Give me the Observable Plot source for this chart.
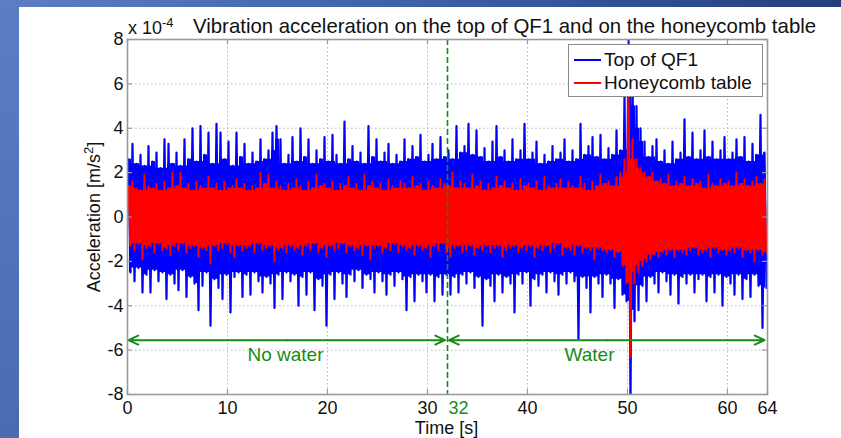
<!DOCTYPE html>
<html>
<head>
<meta charset="utf-8">
<script src="https://cdn.jsdelivr.net/npm/d3@7"></script>
<script src="https://cdn.jsdelivr.net/npm/@observablehq/plot@0.6"></script>
<style>
html,body{margin:0;padding:0;width:841px;height:438px;overflow:hidden;}
body{position:relative;background:linear-gradient(90deg,#5b7ec5 0%,#4064aa 45%,#233f80 100%);font-family:"Liberation Sans",Arial,Helvetica,sans-serif;color:#111;}
#leftband{position:absolute;left:0;top:0;width:19px;height:438px;background:linear-gradient(180deg,#5a7dc4 0%,#4a6bb0 100%);}
#panel{position:absolute;left:19px;top:7px;width:822px;height:431px;background:#fff;}
#chart{position:absolute;left:0;top:0;}
#chart svg{background:transparent;}
.lbl{position:absolute;white-space:nowrap;line-height:1;}
#title{left:193px;top:16px;font-size:20.4px;}
#expo{left:128px;top:19px;font-size:18px;}
#expo sup{font-size:13px;position:relative;top:-3px;vertical-align:top;}
#xlabel{left:0;width:893px;text-align:center;top:419px;font-size:18px;}
#ylabel{left:92px;top:217px;font-size:18px;transform:translate(-50%,-50%) rotate(-90deg);}
#legend{position:absolute;left:568px;top:44px;width:193px;height:51px;border:1px solid #8a8a8a;background:#fff;}
.row{position:absolute;left:4px;height:22px;font-size:19px;line-height:22px;white-space:nowrap;}
.sw{position:absolute;left:1px;top:10px;width:27px;height:2px;}
.row .txt{position:absolute;left:31px;top:0;}
</style>
</head>
<body>
<div id="leftband"></div>
<div id="panel"></div>
<div id="chart"></div>
<div class="lbl" id="title">Vibration acceleration on the top of QF1 and on the honeycomb table</div>
<div class="lbl" id="expo">x 10<sup>-4</sup></div>
<div class="lbl" id="xlabel">Time [s]</div>
<div class="lbl" id="ylabel">Acceleration [m/s<sup style="font-size:13px">2</sup>]</div>
<div id="legend">
  <div class="row" style="top:4px;width:180px"><div class="sw" style="background:#0000ff"></div><span class="txt">Top of QF1</span></div>
  <div class="row" style="top:27px;width:180px"><div class="sw" style="background:#ff0000"></div><span class="txt">Honeycomb table</span></div>
</div>
<script>
// Values in units of 1e-4 m/s^2, one pair (upper peak, lower peak) per 0.4 s window
const dt = 0.4;
const qf1High = [2.6,3.3,2.4,2.8,2.3,3.2,2.5,2.9,2.2,3.5, 3.3,2.4,2.9,2.3,3.5,2.6,4.0,2.5,4.1,2.8,
  3.8,2.4,4.2,3.8,2.6,3.4,2.3,3.8,2.7,3.3, 2.4,2.9,2.5,3.5,2.6,3.0,3.8,4.1,3.5,2.4,
  2.8,3.6,2.5,4.0,2.7,3.5,2.4,3.0,2.6,3.6, 2.5,3.7,2.8,2.4,4.3,2.6,3.2,2.5,2.9,2.4,
  4.1,2.7,3.5,2.5,2.9,3.3,2.4,2.8,2.5,3.5, 2.6,3.2,2.7,3.7,2.5,2.8,3.3,2.6,3.6,2.7,
  3.0,2.6,4.1,2.9,3.2,4.2,2.8,3.9,2.7,3.1, 2.5,3.4,4.1,2.7,3.0,2.5,3.5,2.6,3.0,4.2,
  2.6,2.9,3.4,2.4,2.8,2.5,3.2,2.6,2.9,3.5, 2.5,3.0,2.6,4.2,2.8,3.2,3.6,2.7,3.7,2.6,
  3.1,2.8,3.9,3.0,5.5,8.5,6.5,5.0,4.0,3.4, 2.7,3.2,3.5,2.5,3.0,2.4,3.4,2.6,2.9,4.4,
  2.7,3.8,2.6,3.0,3.9,2.7,3.4,2.6,3.0,3.6, 2.6,2.9,3.5,2.7,3.6,2.5,3.3,2.8,4.6,2.9];
const qf1Low = [-2.5,-2.9,-2.3,-3.4,-2.6,-3.4,-2.4,-2.9,-2.5,-3.7, -2.6,-3.0,-3.3,-2.4,-3.6,-2.7,-3.0,-4.2,-3.1,-2.5,
  -4.9,-2.8,-3.2,-3.7,-2.6,-4.3,-2.7,-2.5,-3.6,-2.6, -3.5,-2.5,-2.9,-3.4,-2.7,-3.0,-4.1,-2.6,-3.7,-2.5,
  -2.9,-2.6,-4.0,-2.7,-3.5,-2.5,-4.2,-2.8,-3.1,-4.9, -2.6,-3.7,-2.5,-3.0,-3.6,-2.6,-2.9,-2.4,-3.2,-2.6,
  -2.8,-3.4,-2.5,-2.9,-3.5,-2.6,-3.1,-2.5,-2.8,-4.2, -2.7,-3.8,-2.6,-2.9,-3.4,-2.6,-3.8,-2.7,-3.5,-2.6,
  -3.5,-2.7,-3.4,-2.6,-3.0,-2.5,-3.2,-2.7,-4.9,-2.8, -3.1,-3.8,-2.6,-3.4,-2.7,-3.0,-4.3,-2.6,-3.0,-2.5,
  -4.0,-2.8,-3.1,-2.6,-3.4,-2.5,-2.9,-3.5,-2.6,-3.0, -2.5,-2.9,-5.5,-2.7,-3.2,-4.3,-2.7,-3.0,-3.6,-2.6,
  -3.0,-4.1,-2.8,-3.5,-3.8,-8.5,-4.7,-4.2,-3.1,-3.8, -2.7,-3.0,-3.4,-2.5,-2.9,-3.5,-2.6,-3.9,-2.7,-3.0,
  -2.6,-3.4,-2.8,-2.6,-3.8,-2.7,-3.4,-2.6,-4.0,-2.7, -3.0,-3.5,-2.6,-3.7,-2.8,-3.6,-2.6,-3.1,-5.0,-3.2];
const tableHigh = [1.4,1.6,1.3,1.2,1.9,1.4,1.3,1.5,1.2,1.6, 1.3,2.0,1.4,2.0,1.3,1.5,1.2,1.6,1.4,1.3,
  1.8,1.3,1.5,1.2,1.6,1.3,1.4,1.7,1.3,1.5, 1.2,1.4,1.3,2.0,1.5,1.9,1.3,1.6,1.4,1.2,
  1.5,1.3,1.7,1.4,1.2,1.6,1.3,1.9,1.4,1.5, 1.3,1.6,1.2,1.5,1.4,1.8,1.3,1.5,1.2,1.9,
  1.4,1.6,1.3,1.5,1.2,1.7,1.4,1.3,1.6,1.5, 1.3,1.8,1.4,1.5,1.2,1.6,1.4,1.3,1.7,1.5,
  1.4,2.0,1.3,1.6,1.5,1.3,1.9,1.4,1.6,1.2, 1.5,1.3,1.8,1.4,1.6,1.3,1.5,1.2,1.7,1.4,
  1.5,1.3,1.6,1.2,1.8,1.4,1.3,1.5,1.7,1.3, 1.6,1.4,1.3,1.8,1.5,1.2,1.6,1.4,1.9,1.5,
  1.6,1.4,1.8,2.0,2.6,7.0,3.5,2.6,2.2,2.0, 1.8,2.0,1.6,1.7,1.5,1.9,1.4,1.6,1.5,1.8,
  1.4,1.7,1.5,1.6,1.3,1.9,1.5,1.4,1.7,1.5, 1.6,1.4,2.0,1.5,1.7,1.4,1.6,1.8,1.5,1.7];
const tableLow = [-1.3,-1.5,-1.2,-1.9,-1.4,-1.3,-1.6,-1.2,-1.5,-1.4, -1.7,-1.3,-1.5,-1.2,-1.6,-1.4,-1.3,-1.8,-1.4,-1.5,
  -2.1,-1.3,-1.5,-1.4,-1.2,-1.6,-1.8,-1.3,-1.5,-1.4, -1.3,-1.6,-1.2,-1.5,-1.4,-1.3,-2.0,-1.5,-1.4,-1.6,
  -1.3,-1.5,-1.4,-1.7,-1.3,-1.5,-1.2,-1.6,-1.4,-1.8, -1.3,-1.5,-1.4,-1.2,-1.6,-1.3,-1.5,-1.4,-1.7,-1.3,
  -1.9,-1.4,-1.3,-1.6,-1.4,-1.5,-1.2,-1.6,-1.3,-1.5, -1.4,-1.7,-1.3,-1.5,-1.4,-1.8,-1.3,-1.5,-1.2,-1.6,
  -1.8,-1.4,-1.3,-1.6,-1.5,-1.3,-1.7,-1.4,-1.5,-1.3, -1.6,-1.4,-1.3,-1.8,-1.5,-1.4,-1.3,-1.6,-1.4,-1.5,
  -1.3,-1.8,-1.4,-1.5,-1.3,-1.6,-1.4,-1.2,-1.7,-1.4, -1.5,-1.7,-1.3,-1.6,-1.4,-1.5,-1.9,-1.4,-1.5,-1.6,
  -1.5,-1.8,-1.6,-2.2,-3.0,-6.3,-3.0,-2.5,-2.2,-2.0, -1.9,-1.7,-1.8,-1.6,-1.7,-1.5,-1.8,-1.5,-1.6,-1.7,
  -1.5,-1.4,-1.7,-1.6,-1.5,-1.8,-1.4,-1.6,-1.5,-1.7, -1.5,-1.6,-1.4,-1.8,-1.5,-1.6,-2.0,-1.5,-1.7,-1.6];

const xTicks = [0, 10, 20, 30, 40, 50, 60, 64];
const xGrid = [10, 20, 30, 40, 50, 60];
const yTicks = [-8, -6, -4, -2, 0, 2, 4, 6, 8];
const yGrid = [-6, -4, -2, 0, 2, 4, 6];
const switchTime = [32];
const arrowLevel = -5.55;
const phaseNames = ["No water", "Water"];
const phaseStart = [0.1, 32.15];
const phaseEnd = [31.75, 63.7];
const phaseLabelX = [15.8, 46.2];
const phaseLabelY = -6.2;

const green = "#168c16";
// zig-zag trace through the per-window peaks
function zigzag(hi, lo) {
  const pts = [];
  hi.forEach((h, i) => {
    pts.push({t: i * dt + dt / 4, v: h});
    pts.push({t: i * dt + 3 * dt / 4, v: lo[i]});
  });
  return pts;
}
// densely filled core of the trace: where neighbouring windows overlap
function core(hi, lo) {
  return hi.map((h, i) => ({
    t: i * dt + dt / 2,
    top: d3.min(hi.slice(Math.max(0, i - 1), i + 2)),
    bottom: d3.max(lo.slice(Math.max(0, i - 1), i + 2))
  }));
}
const qf1 = zigzag(qf1High, qf1Low);
const table = zigzag(tableHigh, tableLow);
const qf1Core = core(qf1High, qf1Low);
const tableCore = core(tableHigh, tableLow);
const arrows = [];
phaseNames.forEach((n, i) => {
  const mid = (phaseStart[i] + phaseEnd[i]) / 2;
  arrows.push({x1: mid, x2: phaseStart[i], y: arrowLevel});
  arrows.push({x1: mid, x2: phaseEnd[i], y: arrowLevel});
});
const labels = phaseNames.map((n, i) => ({name: n, x: phaseLabelX[i], y: phaseLabelY}));

const W = 841, H = 438, mL = 127, mR = 74, mT = 39, mB = 44;
const plotH = H - mT - mB, plotW = W - mL - mR;
const axisGray = "#9a9a9a";

const chart = Plot.plot({
  width: W, height: H,
  marginLeft: mL, marginRight: mR, marginTop: mT, marginBottom: mB,
  style: {fontFamily: "Liberation Sans, Arial, sans-serif", fontSize: "18px", color: "#111", background: "transparent"},
  x: {domain: [0, 64]},
  y: {domain: [-8, 8]},
  marks: [
    Plot.ruleX(xGrid, {stroke: "#b8b8b8", strokeDasharray: "1.5,2.5", strokeWidth: 1}),
    Plot.ruleY(yGrid, {stroke: "#b8b8b8", strokeDasharray: "1.5,2.5", strokeWidth: 1}),
    Plot.areaY(qf1Core, {x: "t", y1: "bottom", y2: "top", fill: "#0000ff", curve: "step", clip: true}),
    Plot.line(qf1, {x: "t", y: "v", stroke: "#0000ff", strokeWidth: 2.2, clip: true}),
    Plot.areaY(tableCore, {x: "t", y1: "bottom", y2: "top", fill: "#ff0000", curve: "step", clip: true}),
    Plot.line(table, {x: "t", y: "v", stroke: "#ff0000", strokeWidth: 2, clip: true}),
    Plot.ruleX(switchTime, {stroke: green, strokeWidth: 1.6, strokeDasharray: "6,3"}),
    Plot.arrow(arrows, {x1: "x1", x2: "x2", y1: "y", y2: "y", stroke: green, strokeWidth: 2, headAngle: 50, headLength: 8, insetStart: 0, insetEnd: 0}),
    Plot.text(labels, {x: "x", y: "y", text: "name", fill: green, fontSize: 19}),
    // inner tick marks (MATLAB box style)
    Plot.tickX(xTicks, {x: d => d, stroke: axisGray, strokeWidth: 1.2, insetTop: plotH - 5}),
    Plot.tickX(xTicks, {x: d => d, stroke: axisGray, strokeWidth: 1.2, insetBottom: plotH - 5}),
    Plot.tickY(yTicks, {y: d => d, stroke: axisGray, strokeWidth: 1.2, insetRight: plotW - 5}),
    Plot.tickY(yTicks, {y: d => d, stroke: axisGray, strokeWidth: 1.2, insetLeft: plotW - 5}),
    Plot.frame({stroke: axisGray, strokeWidth: 1.6}),
    Plot.axisX(xTicks, {tickSize: 0, tickPadding: 7, fontSize: 18, label: null, tickFormat: d => String(d)}),
    Plot.text(switchTime, {x: d => d, frameAnchor: "bottom", lineAnchor: "top", dy: 7, dx: 1, textAnchor: "start", fill: green, fontSize: 18, text: d => String(d)}),
    Plot.axisY(yTicks, {tickSize: 0, tickPadding: 4, fontSize: 18, label: null, tickFormat: d => String(d)})
  ]
});
document.getElementById("chart").appendChild(chart);
</script>
</body>
</html>
